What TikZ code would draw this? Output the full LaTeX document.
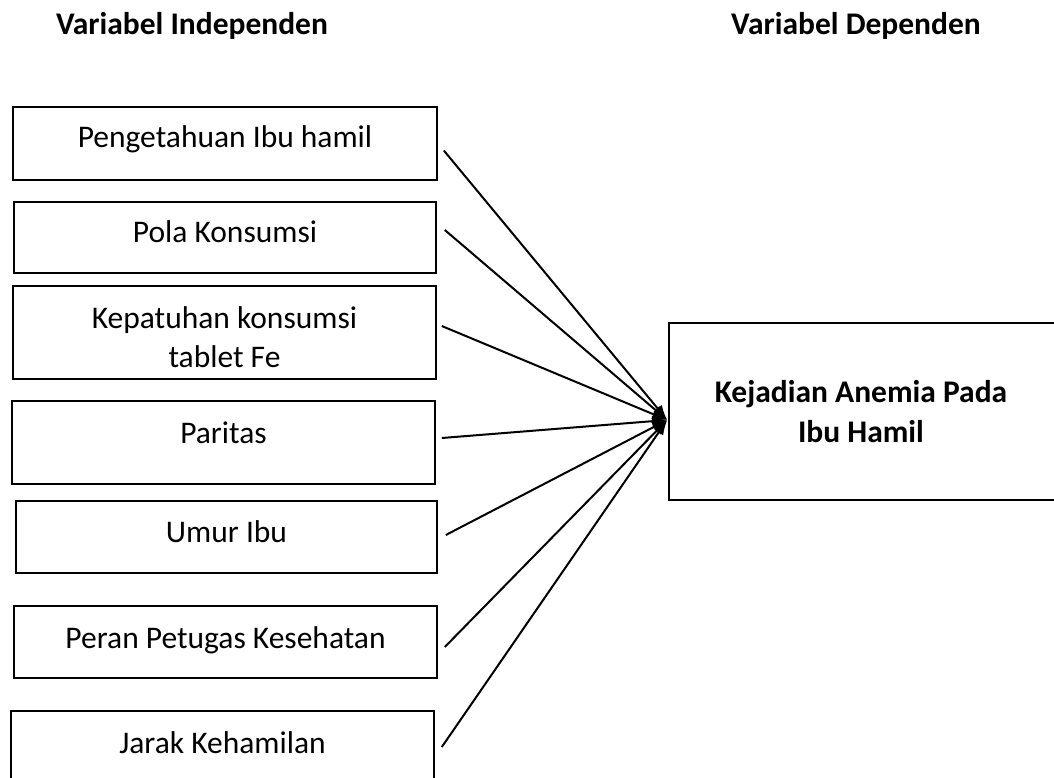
\documentclass[tikz,border=0pt]{standalone}
\usepackage{fontspec}
\setmainfont{Carlito}
\usetikzlibrary{arrows.meta}

\tikzset{
  box/.style={draw, line width=1.6pt, inner sep=0pt},
  lbl/.style={inner sep=0pt, align=center},
  link/.style={line width=2pt, -{Latex[length=15pt, width=11pt]}}
}

\begin{document}
\begin{tikzpicture}[x=1pt, y=-1pt, every node/.style={font=\fontsize{31.5}{39}\selectfont}]
    \useasboundingbox (0,0) rectangle (1054,778);
    % headings
    \node[lbl, anchor=base, font=\fontsize{31.5}{39}\selectfont\bfseries] (indep) at (192,35) {Variabel Independen};
    \node[lbl, anchor=base, font=\fontsize{31.5}{39}\selectfont\bfseries] (dephead) at (856,35) {Variabel Dependen};
    % independent boxes
    \node[box, minimum width=424, minimum height=73] (b1) at (225,143.5) {};
    \node[lbl, anchor=base] (t1) at (225,148) {Pengetahuan Ibu hamil};
    \node[box, minimum width=422, minimum height=71] (b2) at (225,237.5) {};
    \node[lbl, anchor=base] (t2) at (225,242) {Pola Konsumsi};
    \node[box, minimum width=423, minimum height=93] (b3) at (224.5,332.5) {};
    \node[lbl, anchor=base] (t3a) at (224.5,328) {Kepatuhan konsumsi};
    \node[lbl, anchor=base] (t3b) at (224.5,367) {tablet Fe};
    \node[box, minimum width=423, minimum height=83] (b4) at (223.5,442.5) {};
    \node[lbl, anchor=base] (t4) at (223.5,443) {Paritas};
    \node[box, minimum width=421, minimum height=72] (b5) at (226.5,537) {};
    \node[lbl, anchor=base] (t5) at (226.5,542) {Umur Ibu};
    \node[box, minimum width=423, minimum height=72] (b6) at (225.5,642) {};
    \node[lbl, anchor=base] (t6) at (225.5,648) {Peran Petugas Kesehatan};
    \node[box, minimum width=423, minimum height=74] (b7) at (222.5,748) {};
    \node[lbl, anchor=base] (t7) at (222.5,753) {Jarak Kehamilan};
    % dependent box
    \node[box, minimum width=391, minimum height=177] (dep) at (864.5,411.5) {};
    \node[lbl, font=\fontsize{31.5}{40}\selectfont\bfseries] (tdep) at (861,412) {Kejadian Anemia Pada\\Ibu Hamil};
    \coordinate (tip) at ([shift={(-1,8.5)}]dep.west);
    % connectors
    \draw[link] ([shift={(6,7)}]b1.east) -- (tip);
    \draw[link] ([shift={(8,-7.5)}]b2.east) -- (tip);
    \draw[link] ([shift={(5,-6.5)}]b3.east) -- (tip);
    \draw[link] ([shift={(6,-4.5)}]b4.east) -- (tip);
    \draw[link] ([shift={(8,-2)}]b5.east) -- (tip);
    \draw[link] ([shift={(7,5)}]b6.east) -- (tip);
    \draw[link] ([shift={(7,-1)}]b7.east) -- (tip);
\end{tikzpicture}
\end{document}
